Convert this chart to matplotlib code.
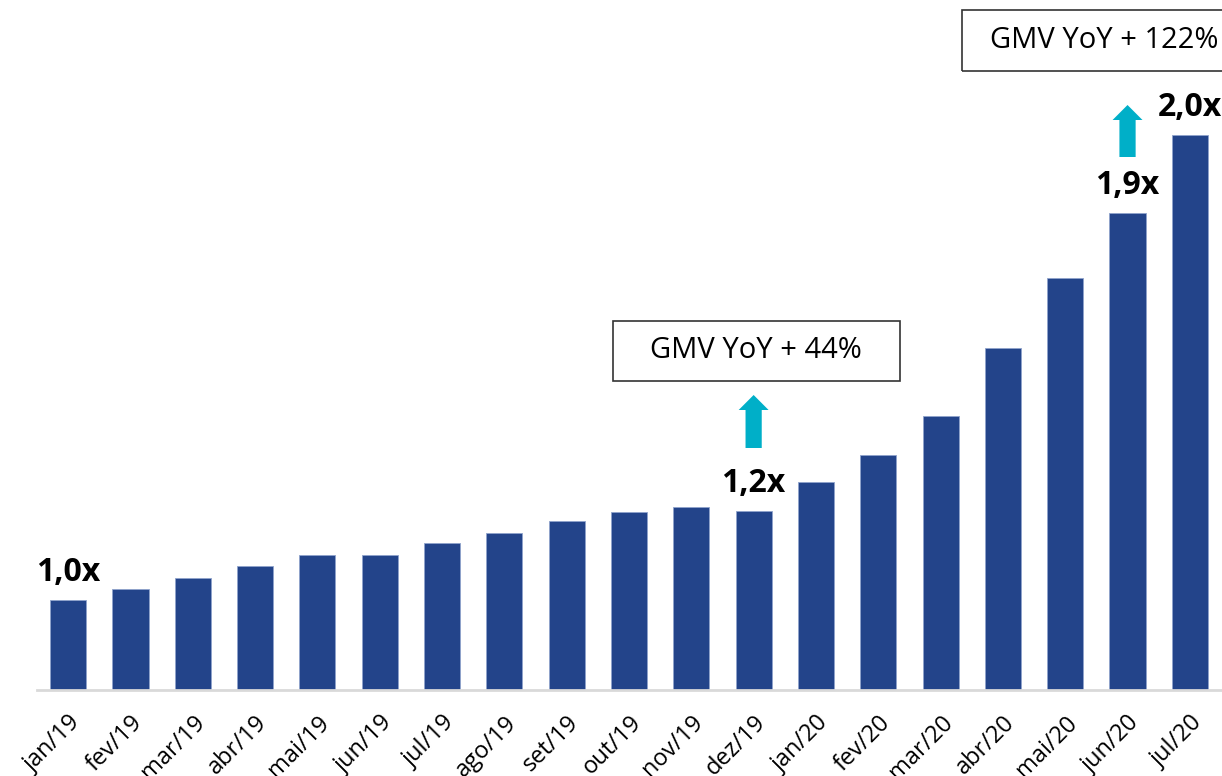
import matplotlib
matplotlib.use('Agg')
from matplotlib import pyplot as plt
from matplotlib.patches import Rectangle, FancyArrow

plt.rcParams['font.family'] = ['Open Sans', 'DejaVu Sans']

meses = ['jan/19', 'fev/19', 'mar/19', 'abr/19', 'mai/19', 'jun/19', 'jul/19',
         'ago/19', 'set/19', 'out/19', 'nov/19', 'dez/19', 'jan/20', 'fev/20',
         'mar/20', 'abr/20', 'mai/20', 'jun/20', 'jul/20']
# GMV index (arbitrary units)
gmv = [90, 101, 112, 124, 135, 135, 147, 157, 169, 178, 183, 179,
       208, 235, 274, 342, 412, 477, 555]
# multiplier labels: bar index -> text
rotulos = {0: '1,0x', 11: '1,2x', 17: '1,9x', 18: '2,0x'}
caixas = [('GMV YoY + 44%', 11), ('GMV YoY + 122%', 17)]

azul = '#23448a'
ciano = '#00afc8'

fig = plt.figure(figsize=(12.22, 7.76), dpi=100)
ax = fig.add_axes([37 / 1222, 86 / 776, 1184 / 1222, 690 / 776])

x = list(range(len(meses)))
ax.bar(x, gmv, width=0.58, color=azul, edgecolor='#8fa3cc', linewidth=0.6, zorder=2)

ax.set_xlim(-0.5, 18.5)
ax.set_ylim(0, 690)

for s in ['top', 'right', 'left']:
    ax.spines[s].set_visible(False)
ax.spines['bottom'].set_color('#d9d9d9')
ax.spines['bottom'].set_linewidth(2)
ax.spines['bottom'].set_zorder(3)
ax.set_yticks([])
ax.set_xticks(x)
ax.set_xticklabels(meses, rotation=45, ha='right', va='top',
                   rotation_mode='anchor', fontsize=17, color='black')
ax.tick_params(axis='x', length=0, pad=15)

for i, txt in rotulos.items():
    ax.annotate(txt, (i, gmv[i]), xytext=(0, 8), textcoords='offset points',
                ha='center', va='bottom', fontsize=23, fontweight='bold',
                color='black')

# arrows and boxes
i1 = caixas[0][1]
ax.add_patch(FancyArrow(i1, gmv[i1] + 63, 0, 53, width=0.26, head_width=0.48,
                        head_length=15, length_includes_head=True,
                        color=ciano, linewidth=0, clip_on=False))
i2 = caixas[1][1]
ax.add_patch(FancyArrow(i2, gmv[i2] + 56, 0, 52, width=0.26, head_width=0.48,
                        head_length=15, length_includes_head=True,
                        color=ciano, linewidth=0, clip_on=False))

ax.add_patch(Rectangle((8.75, 309), 4.6, 60, fill=False, edgecolor='#333333',
                       linewidth=1.2, clip_on=False))
ax.text(11.04, 339, caixas[0][0], ha='center', va='center', fontsize=21, color='black')
ax.add_patch(Rectangle((14.35, 619), 4.8, 61, fill=False, edgecolor='#333333',
                       linewidth=1.2, clip_on=False))
ax.text(16.62, 649, caixas[1][0], ha='center', va='center', fontsize=21,
        color='black', clip_on=False)

fig.savefig('out.png', dpi=100)
